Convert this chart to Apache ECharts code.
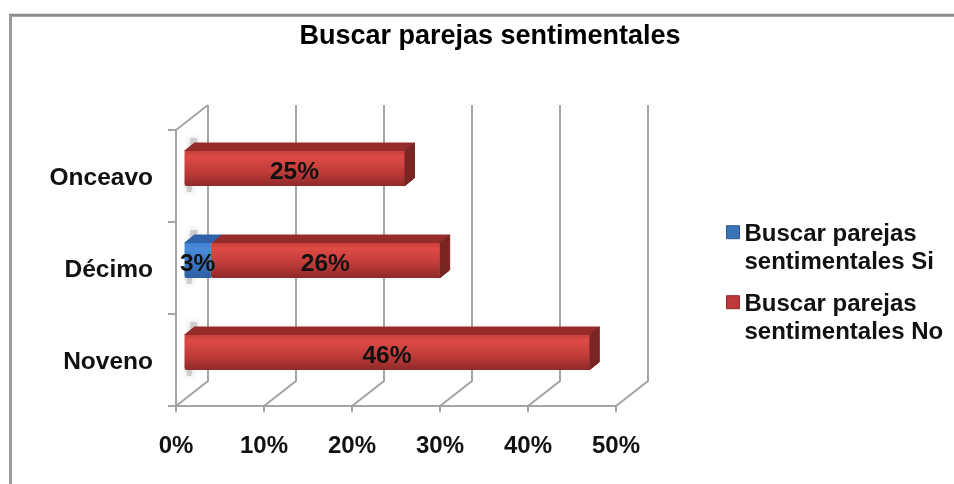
<!DOCTYPE html>
<html>
<head>
<meta charset="utf-8">
<title>Buscar parejas sentimentales</title>
<style>
html,body{margin:0;padding:0;background:#fff;}
#chart{width:954px;height:484px;}
</style>
<script src="https://cdn.jsdelivr.net/npm/echarts@6/dist/echarts.min.js"></script>
</head>
<body>
<div id="chart"></div>
<script>
// datos
var categorias = ['Noveno', 'Décimo', 'Onceavo'];
var valoresSi = [0, 3, 0];
var valoresNo = [46, 26, 25];
var ticksX = [0, 10, 20, 30, 40, 50];
var nombreSi = 'Buscar parejas sentimentales Si';
var nombreNo = 'Buscar parejas sentimentales No';

var FUENTE = '"Liberation Sans", Arial, sans-serif';
var GRIS = '#a4a4a4';
// efecto 3d
var FONDO_X = 32, FONDO_Y = 25;
var BARRA_X = 8.5, BARRA_Y = 7.5;
var PROF_X = 10, PROF_Y = 8;
var ALTO_BARRA = 35;
var ICONO = 'path://M0 0L0 0M0 4H14V18H0ZM0 56L0 56';

var chart = echarts.init(document.getElementById('chart'));

function degradado(c1, c2, c3, c4) {
    return new echarts.graphic.LinearGradient(0, 0, 0, 1, [
        {offset: 0, color: c1},
        {offset: 0.16, color: c2},
        {offset: 0.6, color: c3},
        {offset: 1, color: c4}
    ]);
}

var estiloSi = {
    frente: degradado('#3f80d4', '#4a8ad8', '#3a75c0', '#2b5f9f'),
    arriba: '#2f62a8',
    lado: '#24528c'
};
var estiloNo = {
    frente: degradado('#c8403c', '#df4a45', '#bf3b39', '#8e2a28'),
    arriba: '#962c2a',
    lado: '#7a2523'
};

// filas [inicio, fin, categoria, valor]
var filasSi = [], filasNo = [];
categorias.forEach(function (c, i) {
    if (valoresSi[i] > 0) {
        filasSi.push([0, valoresSi[i], i, valoresSi[i]]);
    }
    filasNo.push([valoresSi[i], valoresSi[i] + valoresNo[i], i, valoresNo[i]]);
});

function dibujaBarra(estilo, conLado) {
    return function (params, api) {
        var ini = api.coord([api.value(0), api.value(2)]);
        var fin = api.coord([api.value(1), api.value(2)]);
        var x0 = ini[0] + BARRA_X, x1 = fin[0] + BARRA_X;
        var y0 = ini[1] - BARRA_Y - ALTO_BARRA / 2;
        var y1 = y0 + ALTO_BARRA;
        var hijos = [];
        if (api.value(0) === 0) {
            // sombra sobre la pared
            hijos.push({
                type: 'polygon',
                shape: {points: [[x0 + 2, y1 + 6], [x0 + 7, y1 + 6], [x0 + 13, y0 - 13], [x0 + 6, y0 - 13]]},
                style: {fill: 'rgba(185,185,185,0.6)', shadowBlur: 6, shadowColor: 'rgba(160,160,160,0.8)'}
            });
        }
        hijos.push({
            type: 'polygon',
            shape: {points: [[x0, y0], [x0 + PROF_X, y0 - PROF_Y], [x1 + PROF_X, y0 - PROF_Y], [x1, y0]]},
            style: {fill: estilo.arriba, stroke: estilo.arriba, lineWidth: 1, lineJoin: 'round'}
        });
        if (conLado) {
            hijos.push({
                type: 'polygon',
                shape: {points: [[x1, y0], [x1 + PROF_X, y0 - PROF_Y], [x1 + PROF_X, y1 - PROF_Y], [x1, y1]]},
                style: {fill: estilo.lado, stroke: estilo.lado, lineWidth: 1, lineJoin: 'round'}
            });
        }
        hijos.push({
            type: 'rect',
            shape: {x: x0, y: y0, width: x1 - x0, height: y1 - y0, r: [2, 0, 0, 2]},
            style: {fill: estilo.frente}
        });
        hijos.push({
            type: 'text',
            z2: 10,
            style: {
                text: api.value(3) + '%',
                x: (x0 + x1) / 2,
                y: (y0 + y1) / 2 + 4,
                align: 'center',
                verticalAlign: 'middle',
                font: 'bold 24.5px ' + FUENTE,
                fill: '#111'
            }
        });
        return {type: 'group', children: hijos};
    };
}

// rejilla: suelo y pared del fondo
function dibujaRejilla(params, api) {
    var s = params.coordSys;
    var suelo = s.y + s.height;
    var x = api.coord([api.value(0), 0])[0];
    var puntos = [[x, suelo], [x + FONDO_X, suelo - FONDO_Y], [x + FONDO_X, s.y - FONDO_Y]];
    var hijos = [{
        type: 'polyline',
        shape: {points: puntos},
        style: {stroke: GRIS, lineWidth: 2, fill: 'none'}
    }];
    if (api.value(0) === 0) {
        hijos.push({
            type: 'line',
            shape: {x1: x, y1: s.y, x2: x + FONDO_X, y2: s.y - FONDO_Y},
            style: {stroke: GRIS, lineWidth: 2}
        });
    }
    return {type: 'group', children: hijos};
}

chart.setOption({
    animation: false,
    backgroundColor: '#fff',
    title: {
        text: 'Buscar parejas sentimentales',
        left: 485,
        top: 18,
        textAlign: 'center',
        textStyle: {fontFamily: FUENTE, fontWeight: 'bold', fontSize: 27, color: '#000'}
    },
    legend: {
        orient: 'vertical',
        left: 721,
        top: 215,
        itemGap: 14,
        itemWidth: 13,
        itemHeight: 56,
        data: [
            {name: nombreSi, icon: ICONO, itemStyle: {color: '#3a74b8', borderColor: '#2a5a94', borderWidth: 1}},
            {name: nombreNo, icon: ICONO, itemStyle: {color: '#c0393a', borderColor: '#8e2a28', borderWidth: 1}}
        ],
        selectedMode: false,
        formatter: function (n) {
            return n.replace('parejas ', 'parejas\n');
        },
        textStyle: {fontFamily: FUENTE, fontWeight: 'bold', fontSize: 24, lineHeight: 28, color: '#111'}
    },
    grid: {left: 176, top: 130, width: 440, height: 276},
    xAxis: {
        type: 'value',
        min: 0,
        max: 50,
        interval: 10,
        splitLine: {show: false},
        axisLine: {show: true, lineStyle: {color: GRIS, width: 2}},
        axisTick: {show: true, length: 6, lineStyle: {color: GRIS, width: 2}},
        axisLabel: {
            margin: 28,
            formatter: '{value}%',
            fontFamily: FUENTE, fontWeight: 'bold', fontSize: 24, color: '#111'
        }
    },
    yAxis: {
        type: 'category',
        data: categorias,
        axisLine: {show: true, lineStyle: {color: GRIS, width: 2}},
        axisTick: {show: true, length: 8, lineStyle: {color: GRIS, width: 2}},
        axisLabel: {
            margin: 23,
            formatter: '{c|{value}}',
            rich: {
                c: {
                    padding: [4, 0, 0, 0],
                    fontFamily: FUENTE, fontWeight: 'bold', fontSize: 24.5, color: '#111'
                }
            }
        }
    },
    graphic: [
        // marco del grafico
        {type: 'line', silent: true, shape: {x1: 9, y1: 15.3, x2: 954, y2: 15.3}, style: {stroke: '#8c8c8c', lineWidth: 3}},
        {type: 'line', silent: true, shape: {x1: 10.5, y1: 15, x2: 10.5, y2: 484}, style: {stroke: '#9a9a9a', lineWidth: 3}}
    ],
    series: [
        {
            type: 'custom',
            name: 'rejilla',
            silent: true,
            z: 1,
            clip: false,
            data: ticksX.map(function (t) { return [t]; }),
            encode: {x: 0},
            renderItem: dibujaRejilla
        },
        {
            type: 'custom',
            name: nombreSi,
            silent: true,
            z: 3,
            clip: false,
            itemStyle: {color: '#3a74b8'},
            data: filasSi,
            encode: {x: [0, 1], y: 2},
            renderItem: dibujaBarra(estiloSi, false)
        },
        {
            type: 'custom',
            name: nombreNo,
            silent: true,
            z: 2,
            clip: false,
            itemStyle: {color: '#c0393a'},
            data: filasNo,
            encode: {x: [0, 1], y: 2},
            renderItem: dibujaBarra(estiloNo, true)
        }
    ]
});
</script>
</body>
</html>
